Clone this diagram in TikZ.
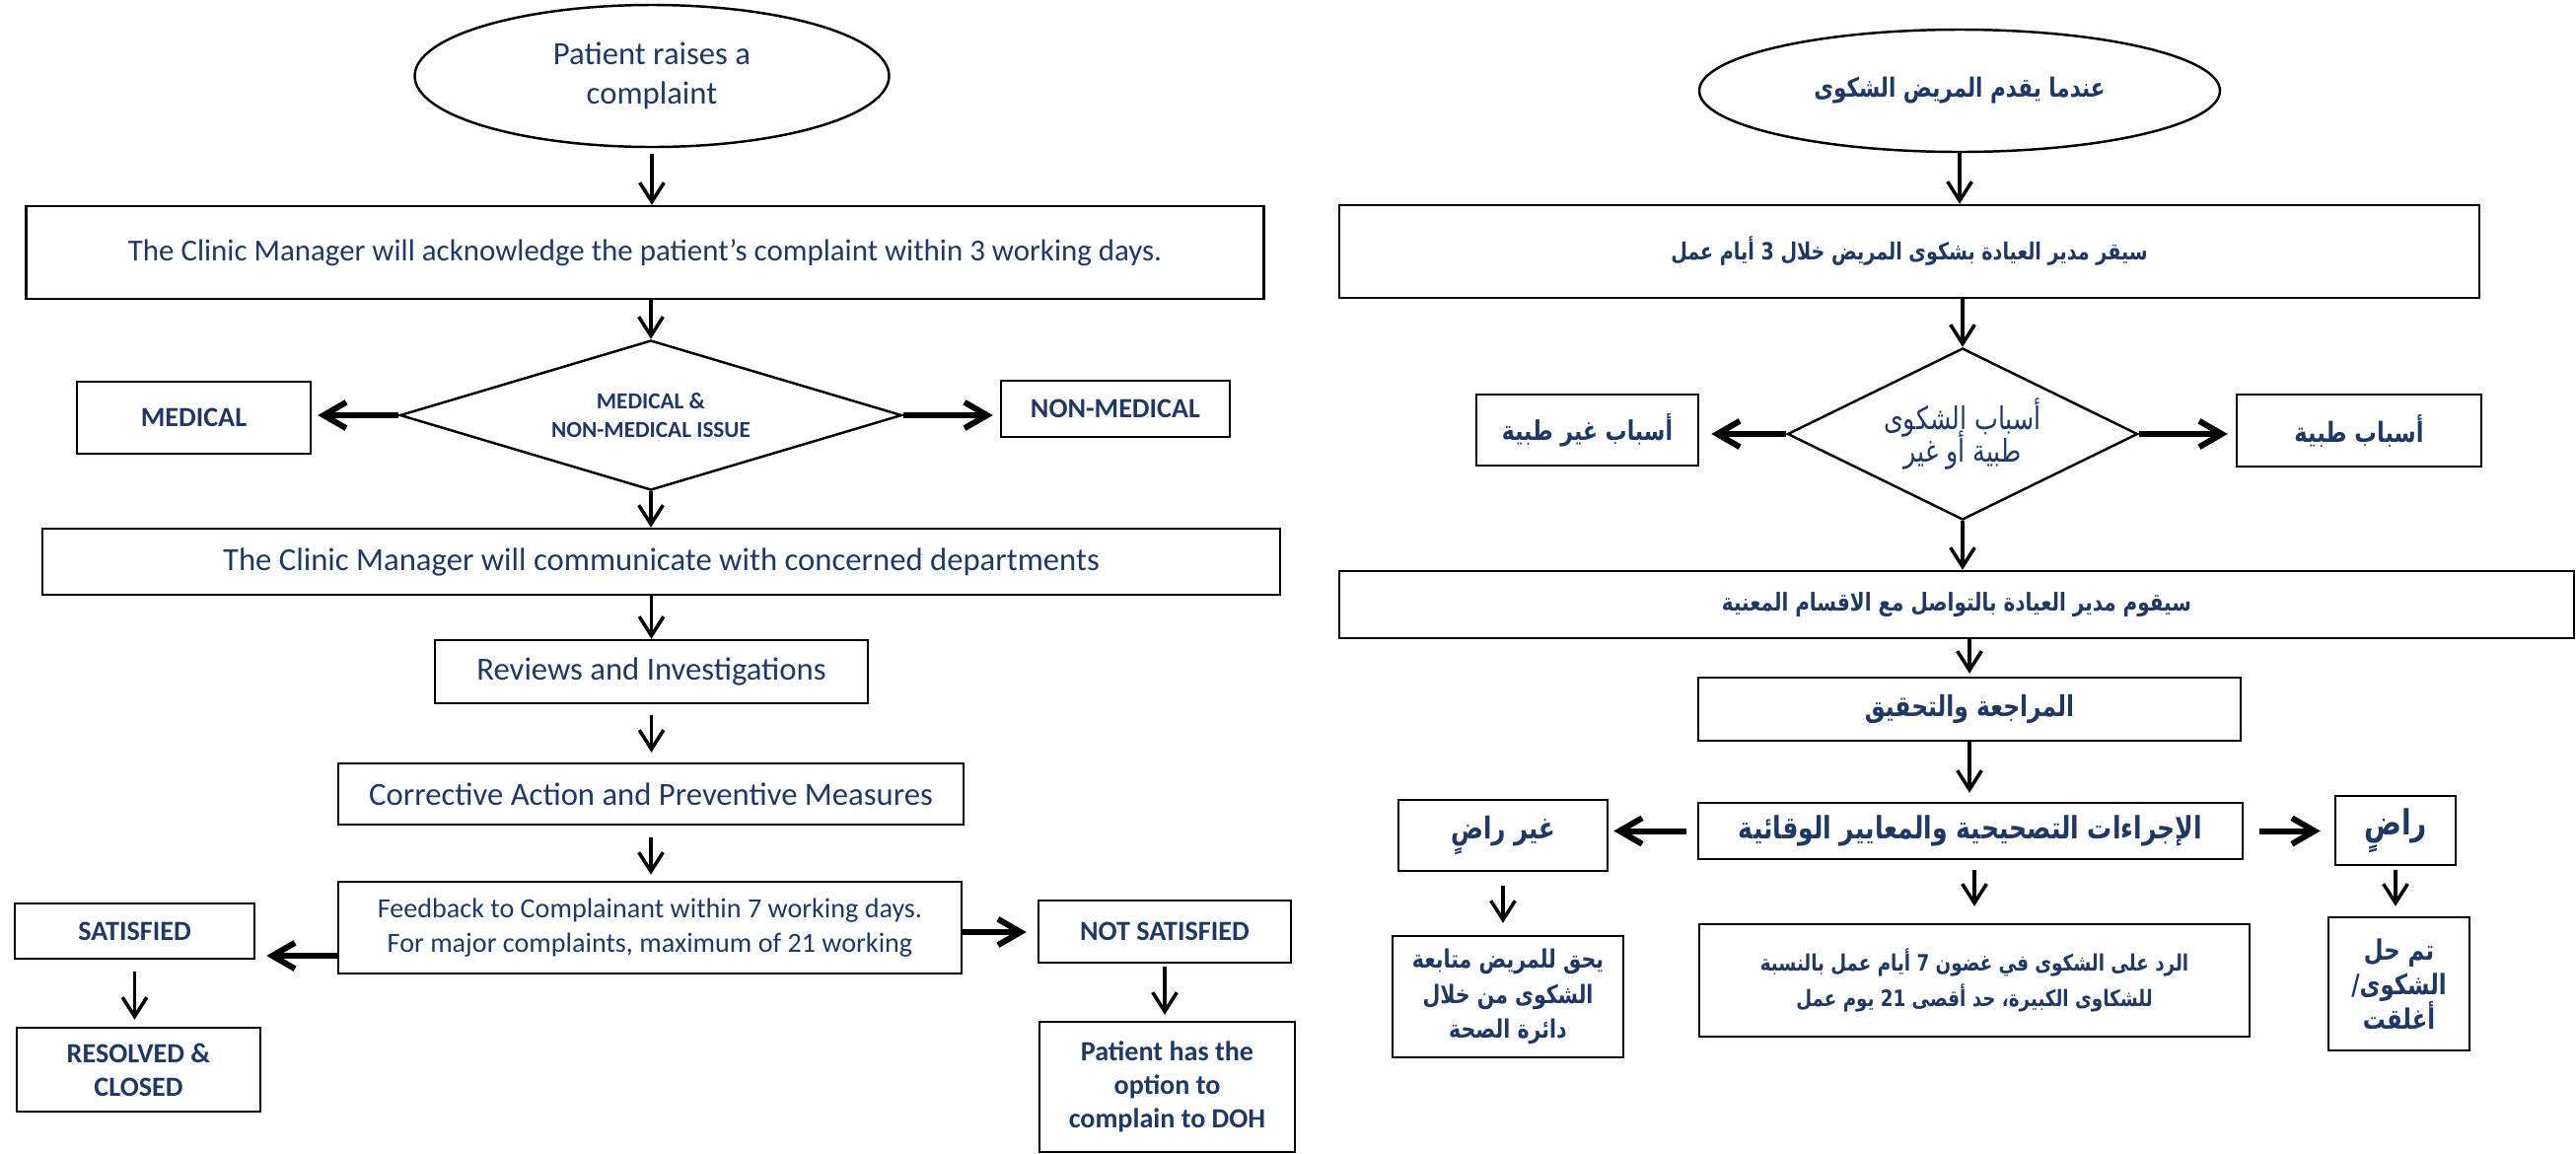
\documentclass[tikz,border=0pt]{standalone}
\usepackage{fontspec}
\setmainfont{Carlito}
\newfontfamily\arabicfont[Script=Arabic,FakeStretch=0.8]{DejaVu Sans}
\TeXXeTstate=1
\usetikzlibrary{shapes.geometric,arrows.meta}
\definecolor{navy}{HTML}{1F3864}
\newcommand{\ar}[1]{\beginR #1\endR}
\newcommand{\tightlines}{\lineskiplimit-20pt\relax}
\tikzset{
  wh/.style 2 args={minimum width=#1*0.01cm,minimum height=#2*0.01cm},
  box/.style={draw,rectangle,line width=0.7pt,text=navy,align=center,inner sep=0pt},
  oval/.style={box,ellipse},
  dec/.style={box,diamond,aspect=3},
  lbl/.style={font=\bfseries\fontsize{8pt}{9.7pt}\selectfont},
  txt/.style={font=\fontsize{9.3pt}{11.4pt}\selectfont},
  ara/.style={font=\arabicfont\bfseries\fontsize{#1pt}{10pt}\selectfont\tightlines},
  ara/.default=8,
  arr/.style={-{Straight Barb[length=5.5pt,width=7pt]},line width=1pt},
  thk/.style={-{Straight Barb[length=6.5pt,width=7.5pt]},line width=1.7pt}
}
\begin{document}
\begin{tikzpicture}[x=0.01cm,y=-0.01cm]
  \useasboundingbox (0,0) rectangle (2612,1169);
  \node[oval,txt,wh={481}{144}]       (pEll)   at (661,77)       {Patient raises a\\complaint};
  \node[box,wh={1255}{94},font=\fontsize{8.8pt}{10pt}\selectfont]
                                      (ack)    at (654,256)      {The Clinic Manager will acknowledge the patient's complaint within 3 working days.};
  \node[dec,wh={509}{152},font=\bfseries\fontsize{6.6pt}{8pt}\selectfont]
                                      (issue)  at (660,421)      {MEDICAL \&\\NON-MEDICAL ISSUE};
  \node[box,lbl,wh={237}{73}]         (med)    at (196.5,423.5)  {MEDICAL};
  \node[box,lbl,wh={232}{57}]         (nonmed) at (1131,414.5)   {NON-MEDICAL};
  \node[box,txt,wh={1255}{67}]        (comm)   at (670.5,569.5)  {The Clinic Manager will communicate with concerned departments};
  \node[box,txt,wh={439}{64}]         (rev)    at (660.5,681)    {Reviews and Investigations};
  \node[box,txt,wh={634}{62}]         (corr)   at (660,805)      {Corrective Action and Preventive Measures};
  \node[box,wh={632}{93},font=\fontsize{8pt}{10pt}\selectfont]
                                      (fb)     at (659,940.5)    {Feedback to Complainant within 7 working days.\\For major complaints, maximum of 21 working};
  \node[box,lbl,wh={243}{56}]         (sat)    at (136.5,944)    {SATISFIED};
  \node[box,lbl,wh={256}{63}]         (notsat) at (1181,944.5)   {NOT SATISFIED};
  \node[box,lbl,wh={247}{85}]         (res)    at (140.5,1084.5) {RESOLVED \&\\CLOSED};
  \node[box,lbl,wh={259}{132}]        (doh)    at (1183.5,1102)  {Patient has the\\option to\\complain to DOH};
  \coordinate (fbL) at (fb.west |- 0,969);
  \coordinate (fbR) at (fb.east |- 0,945);
  \draw[arr,shorten <=0.06cm] (pEll.south) -- (pEll.south |- ack.north);
  \draw[arr] (ack.south -| issue.north) -- (issue.north);
  \draw[arr] (issue.south) -- (issue.south |- comm.north);
  \draw[arr] (comm.south -| rev.north) -- (rev.north);
  \draw[arr,shorten <=0.11cm,shorten >=0.1cm] (rev.south) -- (rev.south |- corr.north);
  \draw[arr,shorten <=0.12cm,shorten >=0.06cm] (corr.south) -- (corr.south |- fb.north);
  \draw[thk,shorten >=0.06cm] (issue.west) -- (issue.west -| med.east);
  \draw[thk,shorten >=0.07cm] (issue.east) -- (issue.east -| nonmed.west);
  \draw[thk,shorten >=0.11cm] (fbL) -- (fbL -| sat.east);
  \draw[thk,shorten >=0.11cm] (fbR) -- (fbR -| notsat.west);
  \draw[arr,shorten <=0.12cm,shorten >=0.07cm] (sat.south) -- (sat.south |- res.north);
  \draw[arr,shorten <=0.03cm,shorten >=0.06cm] (notsat.south) -- (notsat.south |- doh.north);

  \node[oval,ara=7.65,wh={528}{124}]  (aEll)    at (1987,92)     {\ar{عندما يقدم المريض الشكوى}};
  \node[box,ara=6.8,wh={1156}{94}]    (aAck)    at (1936,255)    {\ar{سيقر مدير العيادة بشكوى المريض خلال 3 أيام عمل}};
  \node[dec,wh={355}{174},aspect=2,font=\arabicfont\fontsize{9pt}{9.6pt}\selectfont\tightlines]
                                      (aIssue)  at (1990,440)    {\ar{أسباب الشكوى}\\\ar{طبية أو غير}};
  \node[box,ara=7.8,wh={225}{72}]     (aNonMed) at (1609.5,436)  {\ar{أسباب غير طبية}};
  \node[box,ara,wh={248}{73}]         (aMed)    at (2392,436.5)  {\ar{أسباب طبية}};
  \node[box,ara=7.1,wh={1252}{68}]    (aComm)   at (1984,613)    {\ar{سيقوم مدير العيادة بالتواصل مع الاقسام المعنية}};
  \node[box,ara=8.3,wh={550}{64}]     (aRev)    at (1997,719)    {\ar{المراجعة والتحقيق}};
  \node[box,ara=8.9,wh={552}{57}]     (aCorr)   at (1998,842.5)  {\ar{الإجراءات التصحيحية والمعايير الوقائية}};
  \node[box,ara=8.7,wh={212}{72}]     (aNotSat) at (1524,847)    {\ar{غير راضٍ}};
  \node[box,ara=10,wh={122}{70}]      (aSat)    at (2429,842)    {\ar{راضٍ}};
  \node[box,ara=6.5,wh={558}{114}]    (aFb)     at (2002,994)    {\ar{الرد على الشكوى في غضون 7 أيام عمل بالنسبة}\\\ar{للشكاوى الكبيرة، حد أقصى 21 يوم عمل}};
  \node[box,ara=7.3,wh={234}{123}]    (aFollow) at (1529,1010.5) {\ar{يحق للمريض متابعة}\\\ar{الشكوى من خلال}\\\ar{دائرة الصحة}};
  \node[box,ara=8.1,wh={143}{135}]    (aClosed) at (2432.5,997.5) {\ar{تم حل}\\\ar{الشكوى/}\\\ar{أغلقت}};
  \draw[arr] (aEll.south) -- (aEll.south |- aAck.north);
  \draw[arr] (aAck.south -| aIssue.north) -- (aIssue.north);
  \draw[thk,shorten >=0.12cm] (aIssue.west) -- (aIssue.west -| aNonMed.east);
  \draw[thk,shorten >=0.08cm] (aIssue.east) -- (aIssue.east -| aMed.west);
  \draw[arr] (aIssue.south) -- (aIssue.south |- aComm.north);
  \draw[arr,shorten >=0.03cm] (aComm.south -| aRev.north) -- (aRev.north);
  \draw[arr,shorten >=0.09cm] (aRev.south) -- (aRev.south |- aCorr.north);
  \draw[thk,shorten <=0.11cm,shorten >=0.05cm] (aCorr.west) -- (aCorr.west -| aNotSat.east);
  \draw[thk,shorten <=0.16cm,shorten >=0.14cm] (aCorr.east) -- (aCorr.east -| aSat.west);
  \draw[arr,shorten <=0.1cm,shorten >=0.17cm] (aCorr.south -| aFb.north) -- (aFb.north);
  \draw[arr,shorten <=0.14cm,shorten >=0.12cm] (aNotSat.south) -- (aNotSat.south |- aFollow.north);
  \draw[arr,shorten <=0.04cm,shorten >=0.1cm] (aSat.south) -- (aSat.south |- aClosed.north);
\end{tikzpicture}
\end{document}
